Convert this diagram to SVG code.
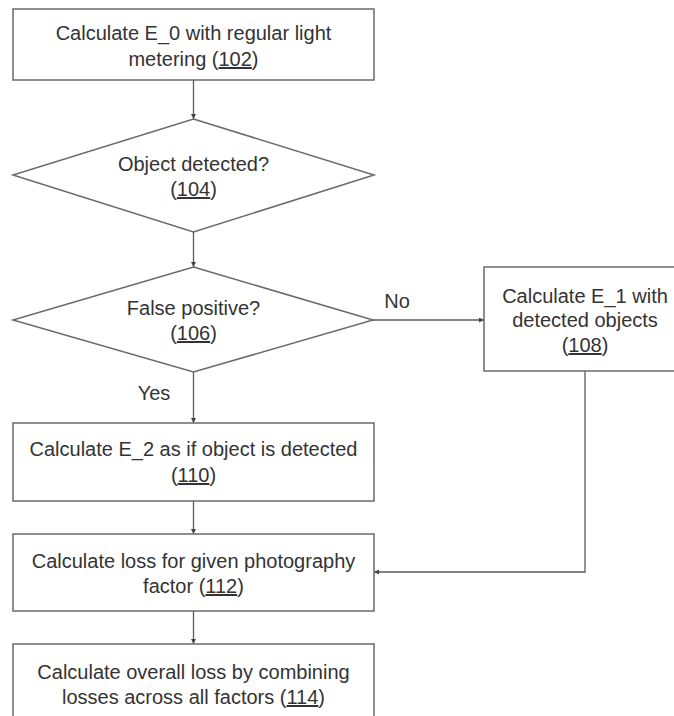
<svg xmlns="http://www.w3.org/2000/svg" width="674" height="716" viewBox="0 0 674 716">
<defs>
<marker id="arr" viewBox="0 0 6 6" refX="6" refY="3" markerWidth="5" markerHeight="5" markerUnits="userSpaceOnUse" orient="auto">
<path d="M0,0 L6,3 L0,6 Z" fill="#444"/>
</marker>
<style>
.box{fill:#fff;stroke:#6a6a6a;stroke-width:1.5}
.t{font-family:"Liberation Sans",Arial,sans-serif;font-size:20px;fill:#333;text-anchor:middle}
.c{fill:none;stroke:#5a5a5a;stroke-width:1.3}
</style>
</defs>
<rect width="674" height="716" fill="#fff"/>
<g id="connectors">
<line class="c" x1="193.5" y1="80" x2="193.5" y2="119" marker-end="url(#arr)"/>
<line class="c" x1="193.5" y1="232" x2="193.5" y2="267" marker-end="url(#arr)"/>
<line class="c" x1="193.5" y1="372" x2="193.5" y2="423" marker-end="url(#arr)"/>
<line class="c" x1="373" y1="320" x2="484" y2="320" marker-end="url(#arr)"/>
<line class="c" x1="193.5" y1="501" x2="193.5" y2="534" marker-end="url(#arr)"/>
<line class="c" x1="193.5" y1="611" x2="193.5" y2="644" marker-end="url(#arr)"/>
<polyline class="c" points="585,371 585,572 374,572" marker-end="url(#arr)"/>
<text class="t" x="397" y="308">No</text>
<text class="t" x="154" y="400">Yes</text>
</g>
<g id="n102">
<rect class="box" x="13" y="9" width="361" height="71"/>
<text class="t" x="193.5" y="40">Calculate E_0 with regular light</text>
<text class="t" x="193.5" y="66">metering (<tspan text-decoration="underline">102</tspan>)</text>
</g>
<g id="n104">
<polygon class="box" points="193.5,119 374,175 193.5,232 13,175"/>
<text class="t" x="193.5" y="171">Object detected?</text>
<text class="t" x="193.5" y="196">(<tspan text-decoration="underline">104</tspan>)</text>
</g>
<g id="n106">
<polygon class="box" points="193.5,267 373,320 193.5,372 13,320"/>
<text class="t" x="193.5" y="315">False positive?</text>
<text class="t" x="193.5" y="340">(<tspan text-decoration="underline">106</tspan>)</text>
</g>
<g id="n108">
<rect class="box" x="484" y="267" width="202" height="104"/>
<text class="t" x="585" y="303">Calculate E_1 with</text>
<text class="t" x="585" y="327">detected objects</text>
<text class="t" x="585" y="352">(<tspan text-decoration="underline">108</tspan>)</text>
</g>
<g id="n110">
<rect class="box" x="13" y="423" width="361" height="78"/>
<text class="t" x="193.5" y="456">Calculate E_2 as if object is detected</text>
<text class="t" x="193.5" y="482">(<tspan text-decoration="underline">110</tspan>)</text>
</g>
<g id="n112">
<rect class="box" x="13" y="534" width="361" height="77"/>
<text class="t" x="193.5" y="568">Calculate loss for given photography</text>
<text class="t" x="193.5" y="593">factor (<tspan text-decoration="underline">112</tspan>)</text>
</g>
<g id="n114">
<rect class="box" x="13" y="644" width="361" height="90"/>
<text class="t" x="193.5" y="679">Calculate overall loss by combining</text>
<text class="t" x="193.5" y="704">losses across all factors (<tspan text-decoration="underline">114</tspan>)</text>
</g>
</svg>
